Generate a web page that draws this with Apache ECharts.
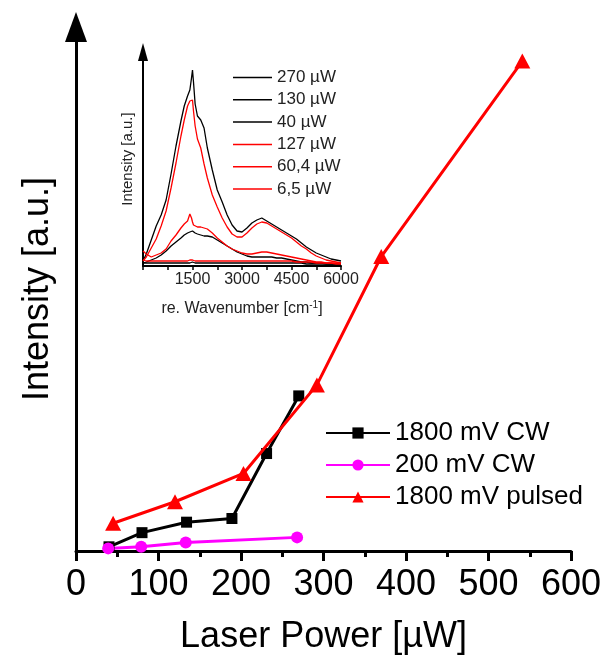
<!DOCTYPE html>
<html>
<head>
<meta charset="utf-8">
<script src="https://cdn.jsdelivr.net/npm/echarts@6/dist/echarts.min.js"></script>
<style>html,body{margin:0;padding:0;background:#fff;}#c{width:605px;height:664px;}</style>
</head>
<body>
<div id="c"></div>
<script>
// ---- main chart data ----
const cw1800X = [40, 80, 134, 189, 231, 270];
const cw1800Y = [0.8, 3.5, 5.5, 6.2, 18.6, 29.6];
const cw200X = [39, 79, 133, 268];
const cw200Y = [0.5, 0.8, 1.6, 2.6];
const pulsedX = [45, 120, 203, 292, 370, 541];
const pulsedY = [5.3, 9.4, 14.8, 31.7, 56.2, 93.5];
const mainNames = ['1800 mV CW', '200 mV CW', '1800 mV pulsed'];

// ---- inset spectra ----
const wn = [0, 100, 250, 400, 550, 700, 850, 1000, 1150, 1250, 1350, 1420, 1470, 1500, 1530, 1580, 1650, 1750, 1850, 1950, 2100, 2250, 2400, 2550, 2700, 2850, 3000, 3150, 3300, 3450, 3600, 3750, 3900, 4050, 4200, 4350, 4500, 4650, 4800, 4950, 5100, 5250, 5400, 5550, 5700, 5850, 6000];
const s270 = [5, 12, 26, 40, 51, 66, 92, 120, 145, 160, 170, 176, 188, 196, 184, 162, 150, 146, 138, 118, 96, 76, 64, 51, 41, 35, 34, 38, 43, 46, 48, 45, 42, 39, 36, 33, 30, 27, 23, 19, 16, 13, 11, 9, 7, 6, 5];
const s130 = [3, 4, 6, 8, 11, 15, 20, 24, 28, 31, 33, 34, 35, 35, 34, 33, 32, 31, 30, 30, 29, 26, 23, 20, 17, 14, 12, 10, 9, 9, 9, 9, 9, 8, 8, 7, 6, 5, 4, 4, 3, 3, 3, 2, 2, 2, 2];
const s40 = [3, 3, 3, 3, 3, 3, 3, 3, 3, 3, 3, 3, 4, 4, 3, 3, 3, 3, 3, 3, 3, 3, 3, 3, 3, 3, 3, 3, 3, 3, 3, 3, 3, 3, 3, 3, 3, 3, 3, 2, 2, 2, 2, 2, 2, 2, 2];
const s127 = [5, 9, 18, 27, 40, 55, 78, 103, 130, 146, 160, 165, 167, 166, 155, 140, 127, 118, 102, 88, 71, 59, 48, 39, 32, 29, 29, 33, 38, 42, 44, 43, 40, 37, 34, 31, 28, 24, 20, 17, 13, 10, 8, 6, 5, 4, 3];
const s604 = [15, 12, 9, 11, 13, 17, 25, 31, 38, 42, 45, 52, 48, 44, 41, 40, 39, 39, 38, 37, 33, 28, 24, 20, 17, 15, 13, 12, 12, 13, 14, 14, 13, 12, 11, 10, 9, 8, 7, 6, 5, 4, 4, 3, 3, 2, 2];
const s65 = [6, 5, 5, 5, 5, 5, 5, 5, 5, 5, 5, 6, 6, 6, 6, 5, 5, 5, 5, 5, 5, 5, 5, 5, 5, 5, 5, 5, 5, 5, 5, 5, 5, 5, 5, 5, 5, 4, 4, 4, 4, 3, 3, 3, 3, 3, 3];
const insetNames = ['270 \u00b5W', '130 \u00b5W', '40 \u00b5W', '127 \u00b5W', '60,4 \u00b5W', '6,5 \u00b5W'];
const insetSeries = [s270, s130, s40, s127, s604, s65];
const insetColors = ['#000000', '#000000', '#000000', '#ff0000', '#ff0000', '#ff0000'];

const mainTicks = [0, 100, 200, 300, 400, 500, 600];
const insetTickLabels = [1500, 3000, 4500, 6000];

const FONT = 'Liberation Sans, Arial, sans-serif';
const zip = (xs, ys) => xs.map((x, i) => [x, ys[i]]);

const chart = echarts.init(document.getElementById('c'), null, {renderer: 'canvas'});

const series = [
  {name: mainNames[0], type: 'line', xAxisIndex: 0, yAxisIndex: 0, data: zip(cw1800X, cw1800Y),
   symbol: 'rect', symbolSize: 11, lineStyle: {color: '#000', width: 3}, itemStyle: {color: '#000'}, z: 3},
  {name: mainNames[1], type: 'line', xAxisIndex: 0, yAxisIndex: 0, data: zip(cw200X, cw200Y),
   symbol: 'circle', symbolSize: 12, lineStyle: {color: '#ff00ff', width: 3}, itemStyle: {color: '#ff00ff'}, z: 3},
  {name: mainNames[2], type: 'line', xAxisIndex: 0, yAxisIndex: 0, data: zip(pulsedX, pulsedY),
   symbol: 'triangle', symbolSize: [16, 15], lineStyle: {color: '#ff0000', width: 3}, itemStyle: {color: '#ff0000'}, z: 4}
];
insetSeries.forEach((arr, i) => {
  series.push({name: insetNames[i], type: 'line', xAxisIndex: 1, yAxisIndex: 1, data: zip(wn, arr),
    showSymbol: false, symbol: 'none', lineStyle: {color: insetColors[i], width: 1.3}, itemStyle: {color: insetColors[i]}, z: 2});
});

chart.setOption({
  animation: false,
  backgroundColor: '#fff',
  textStyle: {fontFamily: FONT},
  grid: [
    {left: 76, right: 34, top: 27, bottom: 113},
    {left: 143, right: 264, top: 52, bottom: 398}
  ],
  legend: [
    {data: mainNames, orient: 'vertical', left: 320, top: 415, itemWidth: 64, itemHeight: 14, itemGap: 6,
     textStyle: {fontFamily: FONT, fontSize: 26, lineHeight: 26, color: '#000'}, selectedMode: false},
    {data: insetNames, orient: 'vertical', left: 228, top: 64, itemWidth: 39, itemHeight: 1.5, itemGap: 5.3,
     icon: 'rect',
     textStyle: {fontFamily: FONT, fontSize: 17, lineHeight: 17, color: '#222'}, selectedMode: false}
  ],
  xAxis: [
    {type: 'value', gridIndex: 0, min: 0, max: 600, interval: 100,
     axisLine: {show: true, onZero: false, lineStyle: {color: '#000', width: 3}},
     axisTick: {show: true, length: 10, lineStyle: {color: '#000', width: 3}},
     minorTick: {show: true, splitNumber: 2, length: 6, lineStyle: {color: '#000', width: 3}},
     axisLabel: {fontFamily: FONT, fontSize: 36, color: '#000', margin: 16,
       formatter: v => mainTicks.indexOf(v) >= 0 ? String(v) : ''},
     splitLine: {show: false},
     name: 'Laser Power [\u00b5W]', nameLocation: 'middle', nameGap: 68,
     nameTextStyle: {fontFamily: FONT, fontSize: 36, color: '#000'}},
    {type: 'value', gridIndex: 1, min: 0, max: 6000, interval: 750,
     axisLine: {show: true, onZero: false, lineStyle: {color: '#000', width: 2}},
     axisTick: {show: true, length: 4, lineStyle: {color: '#000', width: 1.5}},
     axisLabel: {fontFamily: FONT, fontSize: 16, color: '#222', margin: 6,
       formatter: v => insetTickLabels.indexOf(v) >= 0 ? String(v) : ''},
     splitLine: {show: false},
     name: 're. Wavenumber [cm{sup|-1}]', nameLocation: 'middle', nameGap: 34,
     nameTextStyle: {fontFamily: FONT, fontSize: 16, color: '#222',
       rich: {sup: {fontFamily: FONT, fontSize: 10, color: '#222', padding: [0, 0, 8, 0]}}}}
  ],
  yAxis: [
    {type: 'value', gridIndex: 0, min: 0, max: 100,
     axisLine: {show: true, onZero: false, symbol: ['none', 'triangle'], symbolSize: [22, 30], lineStyle: {color: '#000', width: 3}},
     axisTick: {show: false}, axisLabel: {show: false}, splitLine: {show: false},
     name: 'Intensity [a.u.]', nameLocation: 'middle', nameGap: 20, nameRotate: 90,
     nameTextStyle: {fontFamily: FONT, fontSize: 36, color: '#000'}},
    {type: 'value', gridIndex: 1, min: 0, max: 214,
     axisLine: {show: true, onZero: false, symbol: ['none', 'triangle'], symbolSize: [10, 18], lineStyle: {color: '#000', width: 2}},
     axisTick: {show: false}, axisLabel: {show: false}, splitLine: {show: false},
     name: 'Intensity [a.u.]', nameLocation: 'middle', nameGap: 8, nameRotate: 90,
     nameTextStyle: {fontFamily: FONT, fontSize: 15, color: '#222'}}
  ],
  series: series
});
</script>
</body>
</html>
